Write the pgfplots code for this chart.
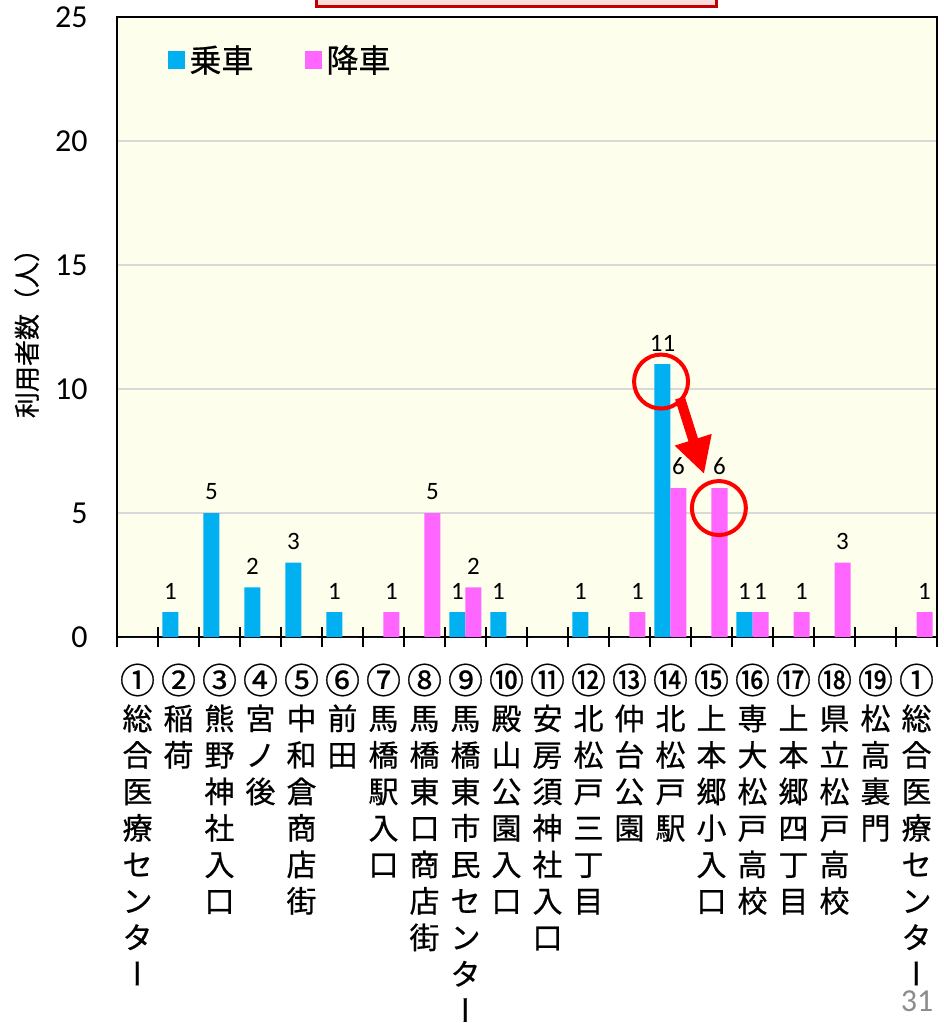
\documentclass[border=0pt]{standalone}
\usepackage{fontspec}
\setmainfont{Carlito}
\newfontfamily\jp[FakeBold=0.6]{Noto Sans CJK JP}
\newfontfamily\jpv[RawFeature=+vert,FakeBold=0.6]{Noto Sans CJK JP}
\newcommand{\vbar}{{\jpv ー}}
\newcommand{\cn}[1]{{\fontsize{17.5}{18.25}\selectfont #1}}
\usepackage{pgfplots}
\pgfplotsset{compat=1.18}
\usetikzlibrary{arrows.meta}
\definecolor{cblue}{HTML}{00B0F0}
\definecolor{cmag}{HTML}{FF66FF}
\definecolor{bgy}{HTML}{FEFEEC}
\definecolor{gridc}{HTML}{D9D9D9}
\definecolor{boxred}{HTML}{C00000}
\definecolor{boxfill}{HTML}{FBDCDC}
\definecolor{pgnum}{HTML}{8C8C8C}
\begin{document}
\begin{tikzpicture}
\begin{axis}[
  at={(0,0)}, anchor=south west,
  scale only axis, width=410pt, height=310pt,
  xmin=-0.5, xmax=19.5, ymin=0, ymax=25,
  ybar=0pt, bar width=8pt,
  axis background/.style={fill=bgy},
  axis line style={black, line width=0.9pt},
  ytick={0,5,10,15,20,25},
  ymajorgrids, grid style={gridc, line width=1pt},
  ytick style={draw=none},
  tick pos=left,
  xtick={0,1,2,3,4,5,6,7,8,9,10,11,12,13,14,15,16,17,18,19},
  major x tick style={draw=none},
  minor xtick={-0.5,0.5,1.5,2.5,3.5,4.5,5.5,6.5,7.5,8.5,9.5,10.5,11.5,12.5,13.5,14.5,15.5,16.5,17.5,18.5,19.5},
  minor x tick style={black, line width=1pt},
  minor tick length=10pt,
  tick align=center,
  /pgf/number format/assume math mode=true,
  yticklabel style={font=\fontsize{16}{16}\selectfont, xshift=-9pt},
  xticklabel style={font=\jp\fontsize{15}{18.25}\selectfont, align=center, anchor=north, inner sep=0pt, yshift=-11pt},
  xticklabels={
    {\cn{①}\\総\\合\\医\\療\\セ\\ン\\タ\\\vbar},
    {\cn{②}\\稲\\荷},
    {\cn{③}\\熊\\野\\神\\社\\入\\口},
    {\cn{④}\\宮\\ノ\\後},
    {\cn{⑤}\\中\\和\\倉\\商\\店\\街},
    {\cn{⑥}\\前\\田},
    {\cn{⑦}\\馬\\橋\\駅\\入\\口},
    {\cn{⑧}\\馬\\橋\\東\\口\\商\\店\\街},
    {\cn{⑨}\\馬\\橋\\東\\市\\民\\セ\\ン\\タ\\\vbar},
    {\cn{⑩}\\殿\\山\\公\\園\\入\\口},
    {\cn{⑪}\\安\\房\\須\\神\\社\\入\\口},
    {\cn{⑫}\\北\\松\\戸\\三\\丁\\目},
    {\cn{⑬}\\仲\\台\\公\\園},
    {\cn{⑭}\\北\\松\\戸\\駅},
    {\cn{⑮}\\上\\本\\郷\\小\\入\\口},
    {\cn{⑯}\\専\\大\\松\\戸\\高\\校},
    {\cn{⑰}\\上\\本\\郷\\四\\丁\\目},
    {\cn{⑱}\\県\\立\\松\\戸\\高\\校},
    {\cn{⑲}\\松\\高\\裏\\門},
    {\cn{①}\\総\\合\\医\\療\\セ\\ン\\タ\\\vbar}
  },
  ylabel={利用者数（人）},
  every axis y label/.style={at={(axis description cs:-0.11,0.5)}, rotate=90, anchor=center, font=\jp\fontsize{13}{13}\selectfont},
  point meta=explicit symbolic,
  nodes near coords,
  every node near coord/.append style={font=\fontsize{12.5}{12.5}\selectfont, black, yshift=3pt},
  legend style={at={(axis description cs:0.055,0.968)}, anchor=north west, draw=none, fill=none,
    font=\jp\fontsize{16}{18}\selectfont, legend columns=2,
    /tikz/every even column/.append style={column sep=24pt}},
]
\addplot[fill=cblue, draw=none,
  legend image code/.code={\fill[cblue] (0pt,-4.4pt) rectangle (8.5pt,4.4pt);}]
  coordinates {(0,0) [] (1,1) [1] (2,5) [5] (3,2) [2] (4,3) [3] (5,1) [1] (6,0) [] (7,0) [] (8,1) [1] (9,1) [1]
  (10,0) [] (11,1) [1] (12,0) [] (13,11) [11] (14,0) [] (15,1) [1] (16,0) [] (17,0) [] (18,0) [] (19,0) []};
\addlegendentry{乗車}
\addplot[fill=cmag, draw=none,
  legend image code/.code={\fill[cmag] (0pt,-4.4pt) rectangle (8.5pt,4.4pt);}]
  coordinates {(0,0) [] (1,0) [] (2,0) [] (3,0) [] (4,0) [] (5,0) [] (6,1) [1] (7,5) [5] (8,2) [2] (9,0) []
  (10,0) [] (11,0) [] (12,1) [1] (13,6) [6] (14,6) [6] (15,1) [1] (16,1) [1] (17,3) [3] (18,0) [] (19,1) [1]};
\addlegendentry{降車}
\draw[red, line width=2pt] (axis cs:12.77,10.3) circle[radius=13.5pt];
\draw[red, line width=2pt] (axis cs:14.18,5.2) circle[radius=13.5pt];
\draw[red, line width=5pt, -{Triangle[width=18pt,length=18pt]}] (axis cs:13.23,9.64) -- (axis cs:13.82,6.57);
\end{axis}
\draw[boxred, line width=1.5pt, fill=boxfill] (99.5pt,315pt) rectangle (299.5pt,345pt);
\node[text=pgnum, font=\fontsize{16}{16}\selectfont] at (400pt,-182pt) {31};
\pgfresetboundingbox
\useasboundingbox (-58.5pt,-193pt) rectangle (413pt,318.5pt);
\end{tikzpicture}
\end{document}
